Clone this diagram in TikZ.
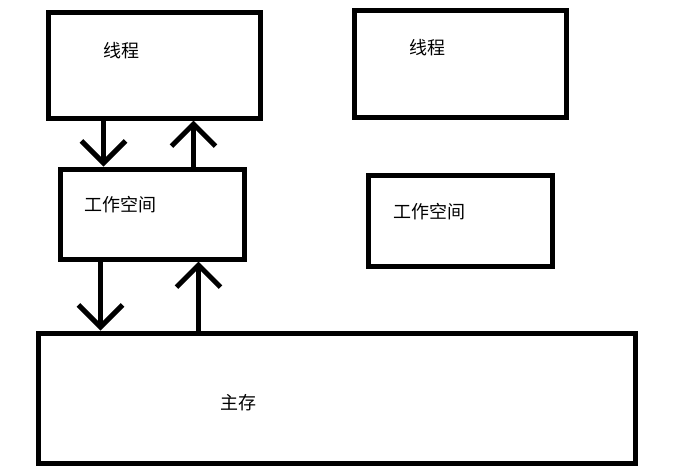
\documentclass[tikz,border=0pt]{standalone}
\usepackage{fontspec}
\newfontfamily\cjk{Noto Sans CJK SC}
\usetikzlibrary{arrows.meta}
\tikzset{
  box/.style={draw,line width=5pt,inner sep=0pt},
  lbl/.style={font=\cjk\fontsize{18}{21}\selectfont,inner sep=0pt},
  arr/.style={line width=5pt,-{Straight Barb[length=22pt,width=44pt]}}
}
\begin{document}
\begin{tikzpicture}[x=1pt,y=-1pt]
  \useasboundingbox (0,0) rectangle (678,475);
  \node[box,minimum width=212pt,minimum height=106pt] (th1) at (154,65) {};
  \node[box,minimum width=184pt,minimum height=90pt] (ws1) at (152,214) {};
  \node[box,minimum width=212pt,minimum height=107pt] (th2) at (460,63.5) {};
  \node[box,minimum width=184pt,minimum height=91pt] (ws2) at (460,220.5) {};
  \node[box,minimum width=597pt,minimum height=130pt] (mm) at (336.5,398) {};
  \node[lbl] (t1) at (121,51) {线程};
  \node[lbl] (t2) at (427,48) {线程};
  \node[lbl] (w1) at (120,205) {工作空间};
  \node[lbl] (w2) at (429,212) {工作空间};
  \node[lbl] (m) at (238,403) {主存};
  \draw[arr] ([xshift=58pt]th1.south west) -- ([xshift=58pt]th1.south west |- ws1.north);
  \draw[arr] ([xshift=136pt]ws1.north west) -- ([xshift=136pt]ws1.north west |- th1.south);
  \draw[arr] ([xshift=43pt]ws1.south west) -- ([xshift=43pt]ws1.south west |- mm.north);
  \draw[arr] ([xshift=163pt]mm.north west) -- ([xshift=163pt]mm.north west |- ws1.south);
\end{tikzpicture}
\end{document}
